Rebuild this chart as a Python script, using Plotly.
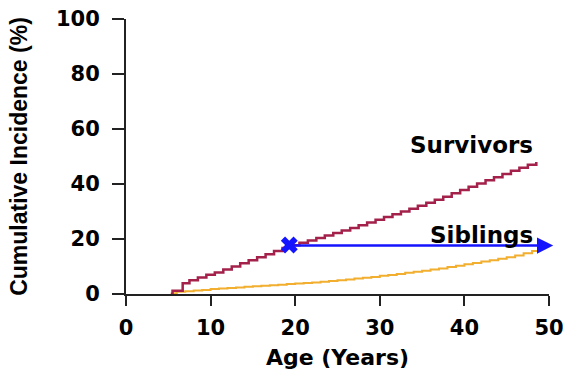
import plotly.graph_objects as go

# Data
survivor_age = [5.3, 5.5, 6.7, 7.5, 8.5, 9.5, 10.5, 11.5, 12.5, 13.5, 14.5, 15.5, 16.5, 17.5,
                18.5, 19.5, 20.5, 21.5, 22.5, 23.5, 24.5, 25.5, 26.5, 27.5, 28.5, 29.5, 30.5,
                31.5, 32.5, 33.5, 34.5, 35.5, 36.5, 37.5, 38.5, 39.5, 40.5, 41.5, 42.5, 43.5,
                44.5, 45.5, 46.5, 47.5, 48.5]
survivor_inc = [0.0, 1.2, 3.9, 5.0, 6.0, 7.0, 7.8, 8.9, 10.0, 11.2, 12.3, 13.4, 14.5, 15.6,
                16.7, 17.7, 18.6, 19.5, 20.4, 21.3, 22.2, 23.1, 24.0, 25.0, 26.0, 27.0, 28.0,
                29.0, 30.0, 31.0, 32.1, 33.2, 34.3, 35.4, 36.6, 37.8, 39.0, 40.2, 41.4, 42.5,
                43.6, 44.8, 45.9, 47.0, 48.0]

sibling_age = [5.3, 6, 7, 8, 9, 10, 11, 12, 13, 14, 15, 16, 17, 18, 19, 20, 21, 22, 23, 24,
               25, 26, 27, 28, 29, 30, 31, 32, 33, 34, 35, 36, 37, 38, 39, 40, 41, 42, 43, 44,
               45, 46, 47, 48, 48.5]
sibling_inc = [0.3, 0.8, 1.0, 1.3, 1.5, 1.8, 2.0, 2.2, 2.4, 2.6, 2.8, 3.0, 3.2, 3.4, 3.6, 3.8,
               4.0, 4.2, 4.5, 4.7, 5.0, 5.3, 5.6, 5.9, 6.2, 6.6, 6.9, 7.3, 7.7, 8.1, 8.5, 8.9,
               9.3, 9.8, 10.3, 10.8, 11.3, 11.8, 12.3, 12.8, 13.4, 14.0, 14.8, 15.6, 16.0]

marker_age = [19.3]
marker_inc = [17.8]
arrow_start = 19.5
arrow_end = 50.5
arrow_level = 17.6

x_ticks = [0, 10, 20, 30, 40, 50]
y_ticks = [0, 20, 40, 60, 80, 100]

SURV_COLOR = "#A3214A"
SIB_COLOR = "#F2AE2E"
BLUE = "#1414FF"
AXIS = "#222222"
TEXT = "#000000"
FONT = "DejaVu Sans"

fig = go.Figure()
fig.add_trace(go.Scatter(x=sibling_age, y=sibling_inc, mode="lines",
                         line=dict(color=SIB_COLOR, width=2, shape="hv"),
                         cliponaxis=False, showlegend=False, hoverinfo="skip"))
fig.add_trace(go.Scatter(x=survivor_age, y=survivor_inc, mode="lines",
                         line=dict(color=SURV_COLOR, width=2.5, shape="hv"),
                         cliponaxis=False, showlegend=False, hoverinfo="skip"))

fig.add_annotation(x=arrow_end, y=arrow_level, ax=arrow_start, ay=arrow_level,
                   xref="x", yref="y", axref="x", ayref="y", text="",
                   showarrow=True, arrowhead=2, arrowsize=1.3, arrowwidth=2.5,
                   arrowcolor=BLUE)
fig.add_trace(go.Scatter(x=marker_age, y=marker_inc, mode="markers",
                         marker=dict(symbol="x", size=15, color=BLUE,
                                     line=dict(width=0)),
                         cliponaxis=False, showlegend=False, hoverinfo="skip"))

fig.add_annotation(x=48.3, y=54.2, text="<b>Survivors</b>", showarrow=False,
                   xanchor="right", yanchor="middle",
                   font=dict(family=FONT, size=23, color=TEXT))
fig.add_annotation(x=48.3, y=21.5, text="<b>Siblings</b>", showarrow=False,
                   xanchor="right", yanchor="middle",
                   font=dict(family=FONT, size=23, color=TEXT))

fig.update_layout(
    width=568, height=370,
    margin=dict(l=126, r=19, t=19, b=76),
    plot_bgcolor="white", paper_bgcolor="white",
    font=dict(family=FONT, color=TEXT),
)
fig.update_xaxes(range=[0, 50], tickvals=x_ticks, ticktext=[f"<b>{v}</b>" for v in x_ticks],
                 showline=True, linecolor=AXIS, linewidth=2, automargin=False,
                 ticks="outside", ticklen=10, tickwidth=2, tickcolor=AXIS,
                 ticklabelstandoff=4,
                 showgrid=False, zeroline=False,
                 tickfont=dict(family=FONT, size=21, color=TEXT),
                 title=dict(text="<b>Age (Years)</b>", standoff=14,
                            font=dict(family=FONT, size=22, color=TEXT)))
fig.update_yaxes(range=[0, 100], tickvals=y_ticks, ticktext=[f"<b>{v}</b>" for v in y_ticks],
                 showline=True, linecolor=AXIS, linewidth=2, automargin=False,
                 ticks="outside", ticklen=12, tickwidth=2, tickcolor=AXIS,
                 ticklabelstandoff=8,
                 showgrid=False, zeroline=False,
                 tickfont=dict(family=FONT, size=21, color=TEXT),
                 title=dict(text="<b>Cumulative Incidence (%)</b>", standoff=22,
                            font=dict(family="Liberation Sans", size=23, color=TEXT)))

fig.write_html("out.html", config={"displayModeBar": False},
               post_script="document.body.style.margin='0';document.body.style.padding='0';")
